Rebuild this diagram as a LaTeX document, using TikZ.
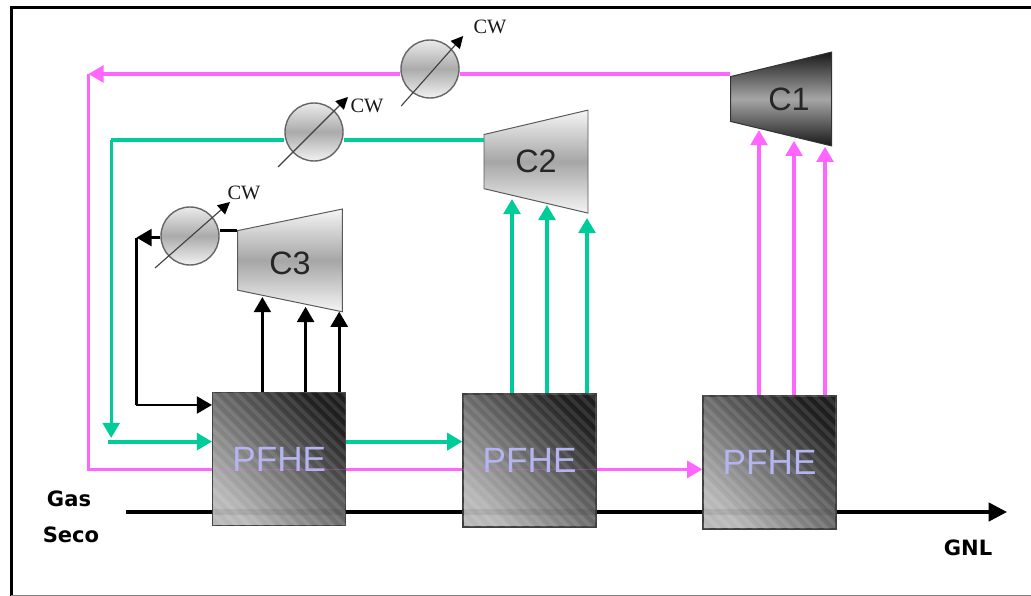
\documentclass[tikz,border=0pt]{standalone}
\usepackage{fontspec}
\setmainfont{Liberation Sans}
\newfontfamily\cwfont{Liberation Serif}
\newfontfamily\streamfont{DejaVu Sans}
\usetikzlibrary{arrows.meta, shapes.geometric, patterns.meta}
\definecolor{flowpink}{HTML}{FF66FF}
\definecolor{flowgreen}{HTML}{00CC99}
\begin{document}
\begin{tikzpicture}[
    exchanger/.style={draw=black!75, line width=1pt, minimum width=3.325cm,
                  minimum height=3.325cm, inner sep=0pt, shading=axis,
                  top color=black!88, bottom color=black!28, shading angle=-45,
                  text={rgb,255:red,180;green,180;blue,240},
                  font=\fontsize{25}{28}\selectfont,
                  postaction={fill opacity=0.1, pattern={Lines[angle=-45, distance=6.5pt, line width=3pt]},
                  pattern color=white}},
    compressor/.style={trapezium, trapezium stretches=true, shape border rotate=90,
                  trapezium angle=76, draw=black!65, line width=0.7pt, inner sep=0pt,
                  font=\fontsize{23}{26}\selectfont, text=black!85},
    lightcomp/.style={compressor, top color=black!4, bottom color=black!4, middle color=black!35},
    cooler/.style={circle, draw=black!60, line width=1pt, minimum size=1.45cm, inner sep=0pt,
                  top color=black!8, bottom color=black!5, middle color=black!33},
    coolarrow/.style={-{Triangle[length=3mm, width=3mm, color=black]}, line width=0.8pt, draw=black!75},
    cwlabel/.style={font=\cwfont\fontsize{14.5}{16}\selectfont, text=black!90},
    streamlabel/.style={font=\streamfont\bfseries\fontsize{15}{18}\selectfont},
    pinkline/.style={flowpink, line width=2.4pt},
    greenline/.style={flowgreen, line width=2.9pt},
    blackline/.style={black, line width=2.1pt},
    pinkarrow/.style={pinkline, -{Triangle[length=3.8mm, width=4.2mm]}},
    greenarrow/.style={greenline, -{Triangle[length=3.8mm, width=4.2mm]}},
    blackarrow/.style={blackline, -{Triangle[length=3.8mm, width=4.2mm]}},
    mainline/.style={black, line width=2.5pt}
]
\useasboundingbox (0,0) rectangle (25.775,-14.9);

% Frame
\draw[black, line width=2.2pt] (25.775,-0.19) -- (0.28,-0.19) -- (0.28,-14.9);
\draw[black!50, line width=1pt] (0.28,-14.88) -- (25.775,-14.88);

% Heat exchangers
\node[exchanger] (pfhe1) at (6.98, -11.475) {PFHE};
\node[exchanger] (pfhe2) at (13.24, -11.51) {PFHE};
\node[exchanger] (pfhe3) at (19.24, -11.56) {PFHE};

% Compressors
\node[lightcomp, minimum width=2.575cm, minimum height=2.62cm] (c3) at (7.25, -6.51)
    {\rule{0pt}{20pt}C3};
\node[lightcomp, minimum width=2.575cm, minimum height=2.6cm] (c2) at (13.4, -4.04) {C2};
\node[compressor, minimum width=2.35cm, minimum height=2.525cm, trapezium angle=77.7, draw=black!80,
    top color=black!90, bottom color=black!90, middle color=black!35] (c1) at (19.525, -2.475)
    {\hspace*{0.4cm}C1};

% Coolers
\node[cooler] (hx1) at (10.75, -1.725) {};
\node[cooler] (hx2) at (7.85, -3.3) {};
\node[cooler] (hx3) at (4.75, -5.9) {};

% Cooling water
\coordinate (hx1low) at (10.03, -2.65);
\coordinate (hx1tip) at (11.58, -0.9);
\coordinate (hx2low) at (6.95, -4.175);
\coordinate (hx2tip) at (8.7, -2.425);
\coordinate (hx3low) at (3.875, -6.7);
\coordinate (hx3tip) at (5.75, -5.05);
\draw[coolarrow] (hx1low) -- (hx1tip);
\draw[coolarrow] (hx2low) -- (hx2tip);
\draw[coolarrow] (hx3low) -- (hx3tip);
\node[cwlabel] (cw1) at (12.25, -0.675) {CW};
\node[cwlabel] (cw2) at (9.175, -2.65) {CW};
\node[cwlabel] (cw3) at (6.1, -4.825) {CW};

% Pink loop
\coordinate (pinktop) at (2.21, -1.85);
\coordinate (pinkback) at (2.21, -11.735);
\draw[pinkline] (c1.west |- pinktop) -- (hx1.east |- pinktop);
\draw[pinkarrow] (hx1.west |- pinktop) -- (pinktop);
\draw[pinkline, line width=2pt] (pinktop) -- (pinkback) -- (pinkback -| pfhe1.west);
\draw[pinkline, line width=2pt] (pinkback -| pfhe1.east) -- (pinkback -| pfhe2.west);
\draw[pinkarrow] (pinkback -| pfhe2.east) -- (pinkback -| pfhe3.west);
\draw[pinkline, line width=0.8pt, opacity=0.25] (pinkback -| pfhe1.west) -- (pinkback -| pfhe1.east);
\draw[pinkline, line width=0.8pt, opacity=0.25] (pinkback -| pfhe2.west) -- (pinkback -| pfhe2.east);
\coordinate (c1a) at (18.975, -3.25);
\coordinate (c1b) at (19.85, -3.52);
\coordinate (c1c) at (20.625, -3.67);
\draw[pinkarrow] (pfhe3.north -| c1a) -- (c1a);
\draw[pinkarrow] (pfhe3.north -| c1b) -- (c1b);
\draw[pinkarrow] (pfhe3.north -| c1c) -- (c1c);

% Green loop
\coordinate (greentop) at (2.78, -3.5);
\coordinate (greendown) at (2.78, -10.95);
\coordinate (greenback) at (2.7, -11.04);
\draw[greenline, line width=2.4pt] (c2.west |- greentop) -- (hx2.east |- greentop);
\draw[greenline, line width=2.4pt] (hx2.west |- greentop) -- (greentop);
\draw[greenarrow, line width=2.4pt] (greentop) -- (greendown);
\draw[greenarrow] (greenback) -- (greenback -| pfhe1.west);
\draw[greenarrow] (greenback -| pfhe1.east) -- (greenback -| pfhe2.west);
\coordinate (c2a) at (12.8, -4.975);
\coordinate (c2b) at (13.675, -5.125);
\coordinate (c2c) at (14.675, -5.45);
\draw[greenarrow] (pfhe2.north -| c2a) -- (c2a);
\draw[greenarrow] (pfhe2.north -| c2b) -- (c2b);
\draw[greenarrow] (pfhe2.north -| c2c) -- (c2c);

% Black loop
\coordinate (blacktop) at (3.41, -5.94);
\coordinate (blackback) at (3.41, -10.125);
\draw[blackline] (c3.top right corner) -- (hx3.east |- c3.top right corner);
\draw[blackarrow] (hx3.west |- blacktop) -- (blacktop);
\draw[blackline] (blacktop) -- (blackback);
\draw[blackarrow, line join=round] (blackback) -- (blackback -| pfhe1.west);
\coordinate (c3a) at (6.56, -7.425);
\coordinate (c3b) at (7.64, -7.67);
\coordinate (c3c) at (8.48, -7.79);
\draw[blackarrow] (pfhe1.north -| c3a) -- (c3a);
\draw[blackarrow] (pfhe1.north -| c3b) -- (c3b);
\draw[blackarrow] (pfhe1.north -| c3c) -- (c3c);

% Gas line
\coordinate (gasin) at (3.15, -12.8);
\coordinate (gasout) at (25.175, -12.8);
\draw[mainline] (gasin) -- (gasin -| pfhe1.west);
\draw[mainline] (gasin -| pfhe1.east) -- (gasin -| pfhe2.west);
\draw[mainline] (gasin -| pfhe2.east) -- (gasin -| pfhe3.west);
\draw[mainline, -{Triangle[length=4.6mm, width=4.6mm]}] (gasin -| pfhe3.east) -- (gasout);
\draw[mainline, line width=4pt, opacity=0.08] (gasin -| pfhe1.west) -- (gasin -| pfhe1.east);
\draw[mainline, line width=4pt, opacity=0.08] (gasin -| pfhe2.west) -- (gasin -| pfhe2.east);
\draw[mainline, line width=4pt, opacity=0.08] (gasin -| pfhe3.west) -- (gasin -| pfhe3.east);

% Stream labels
\node[streamlabel] (gas) at (1.725, -12.47) {Gas};
\node[streamlabel] (seco) at (1.775, -13.375) {Seco};
\node[streamlabel] (gnl) at (24.2, -13.69) {GNL};

\end{tikzpicture}
\end{document}
